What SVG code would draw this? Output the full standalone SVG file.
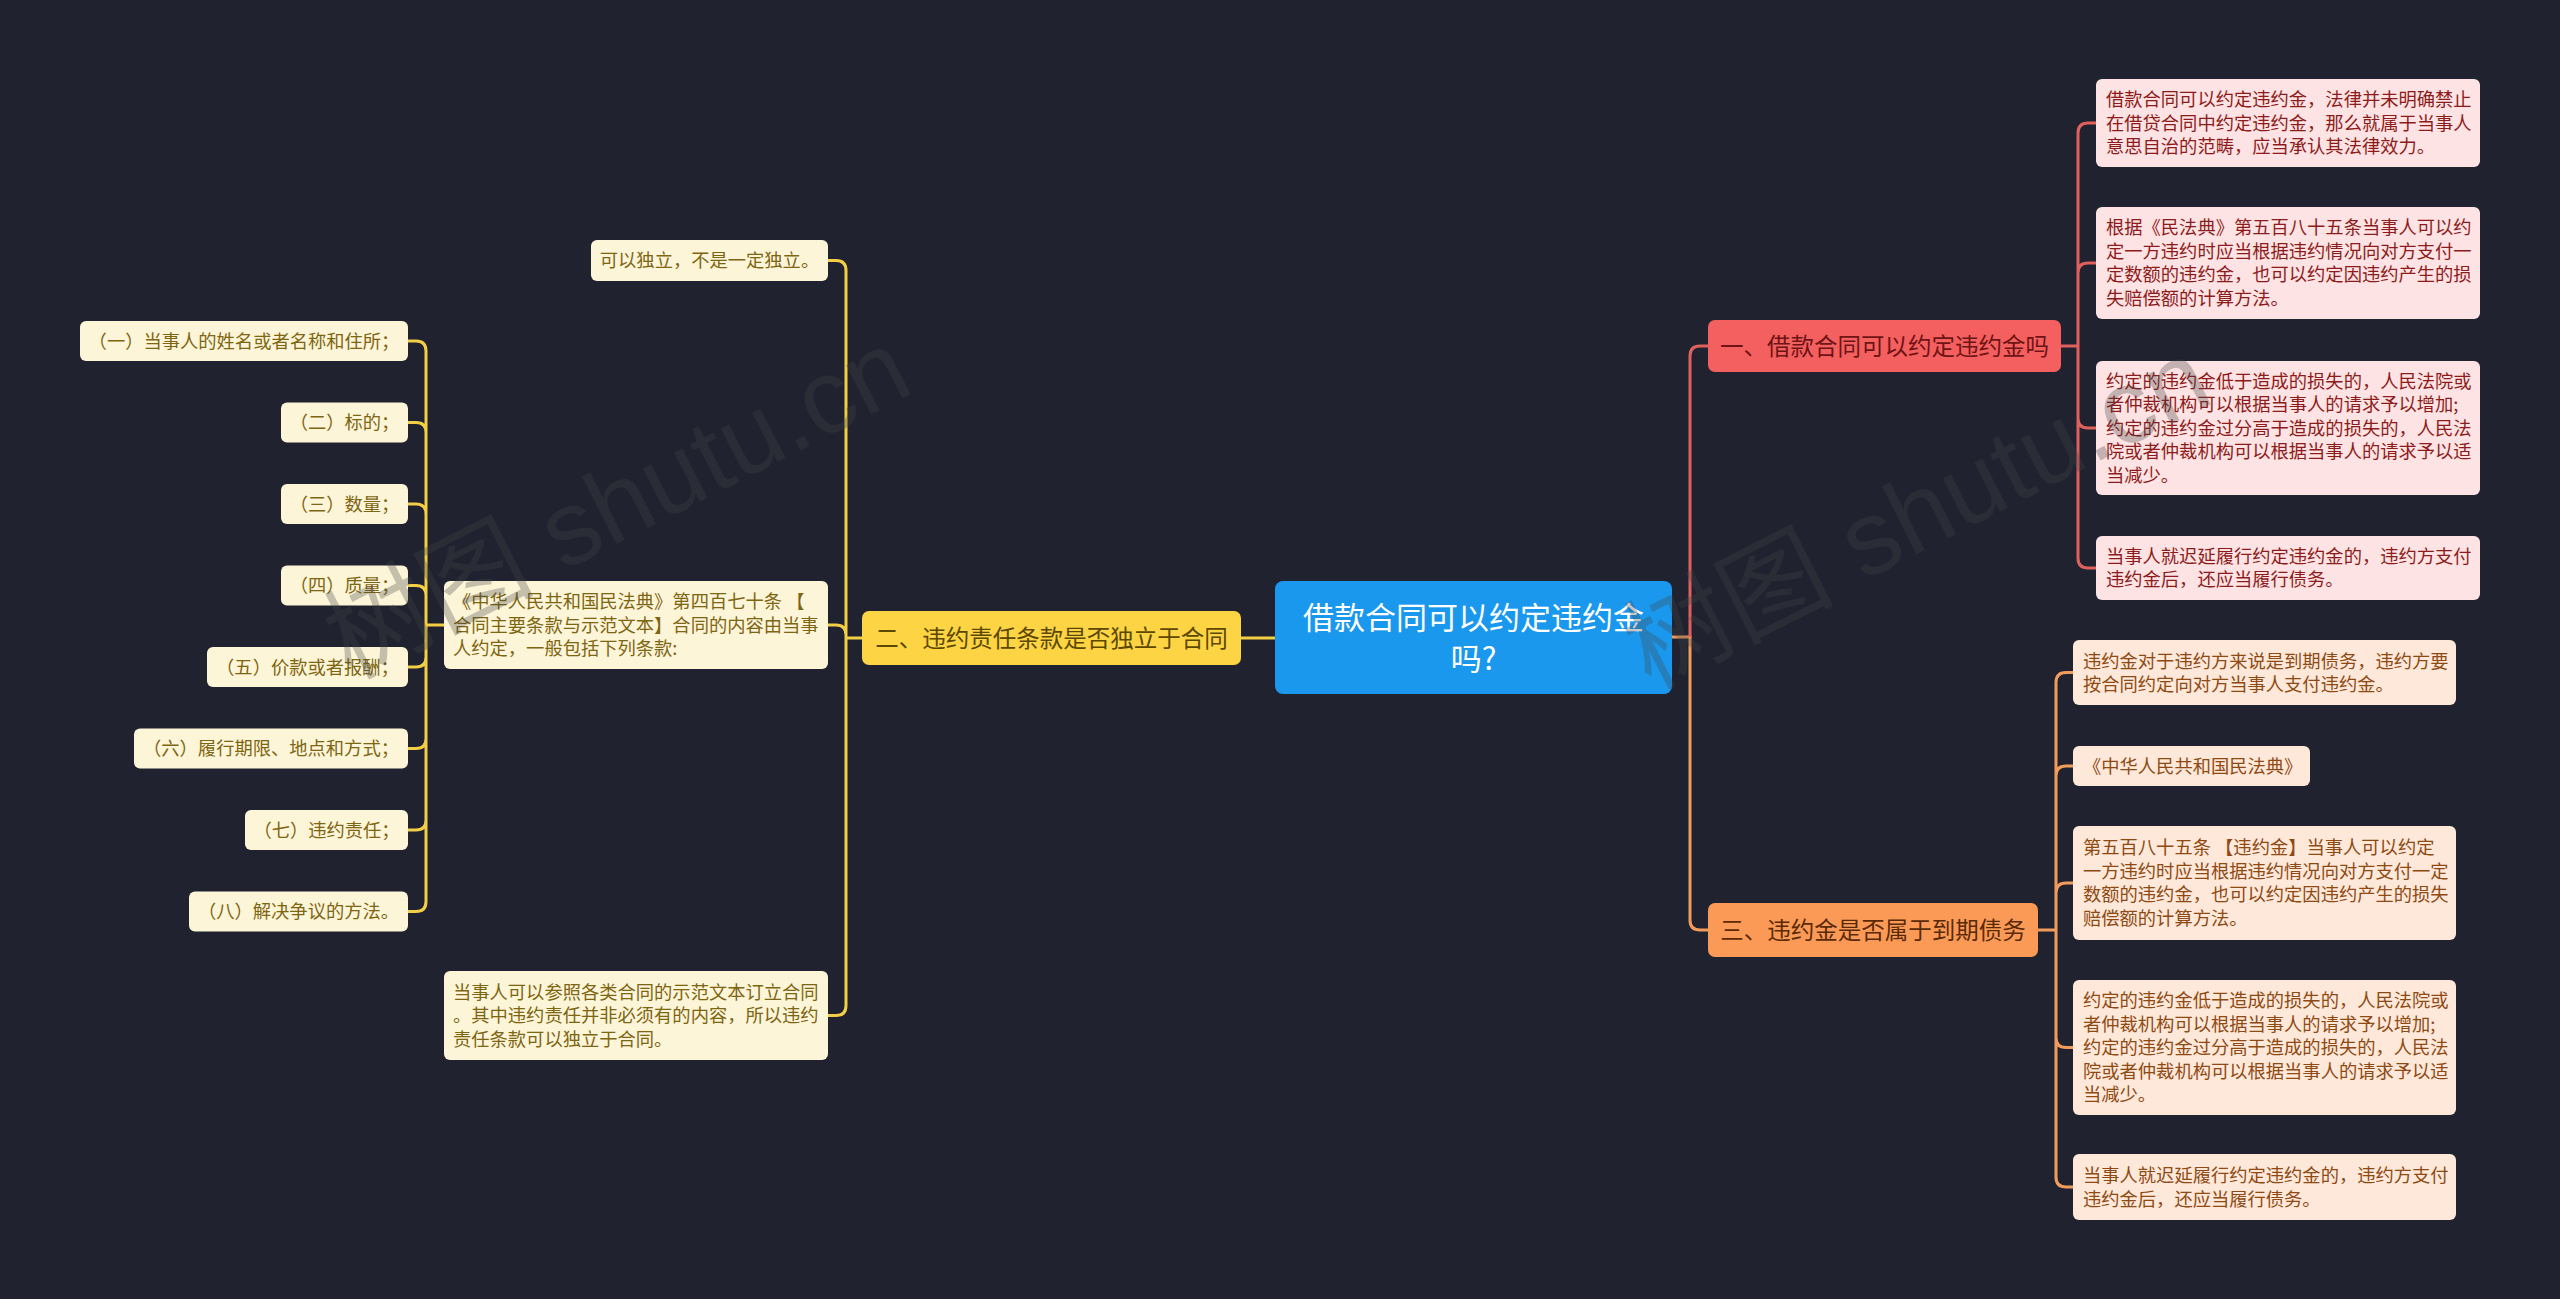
<svg xmlns="http://www.w3.org/2000/svg" width="2560" height="1299" viewBox="0 0 2560 1299">
<style>
text{font-family:"Noto Sans CJK SC","Microsoft YaHei",sans-serif}
.sm{font-size:18.3px}
.main{font-size:23.5px;text-anchor:middle}
.red rect{fill:#fde3e3}
.red text{fill:#8e1b1b}
.org rect{fill:#fde8d9}
.org text{fill:#8f4a14}
.yel rect{fill:#fdf5d8}
.yel text{fill:#7d6512}
.mid{text-anchor:middle}
.cr{fill:none;stroke:#e0605e;stroke-width:3}
.co{fill:none;stroke:#f29c5c;stroke-width:3}
.cy{fill:none;stroke:#f2cf45;stroke-width:3}
.wm{font-family:"Liberation Sans","Noto Sans CJK SC",sans-serif;font-size:105px;fill:#444;opacity:0.3}
</style>
<rect x="0" y="0" width="2560" height="1299" fill="#20232f"/>
<g id="connectors">
<path class="co" d="M1672,637 H1690 V920 Q1690,930 1700,930 H1708"/>
<path class="cr" d="M1690,637 V356 Q1690,346 1700,346 H1708"/>
<path class="cy" d="M1275,638 H1241"/>
<path class="cr" d="M2061,346 H2078 M2078,346 V133 Q2078,123 2088,123 H2096 M2078,346 V273 Q2078,263 2088,263 H2096 M2078,346 V418 Q2078,428 2088,428 H2096 M2078,346 V558 Q2078,568 2088,568 H2096"/>
<path class="co" d="M2038,930 H2056 M2056,930 V682.5 Q2056,672.5 2066,672.5 H2073 M2056,930 V776 Q2056,766 2066,766 H2073 M2056,930 V893 Q2056,883 2066,883 H2073 M2056,930 V1037.5 Q2056,1047.5 2066,1047.5 H2073 M2056,930 V1177 Q2056,1187 2066,1187 H2073"/>
<path class="cy" d="M862,638 H846 M846,638 V270.5 Q846,260.5 836,260.5 H828 M846,638 V635 Q846,625 836,625 H828 M846,638 V1005.5 Q846,1015.5 836,1015.5 H828"/>
<path class="cy" d="M444,625 H426 M426,625 V351 Q426,341 416,341 H408 M426,625 V432.5 Q426,422.5 416,422.5 H408 M426,625 V514 Q426,504 416,504 H408 M426,625 V595.5 Q426,585.5 416,585.5 H408 M426,625 V657 Q426,667 416,667 H408 M426,625 V738.5 Q426,748.5 416,748.5 H408 M426,625 V820 Q426,830 416,830 H408 M426,625 V901.5 Q426,911.5 416,911.5 H408"/>
</g>
<g id="root">
<rect x="1275" y="581" width="397" height="113" rx="8" fill="#1998ee"/>
<text x="1473.5" y="629" font-size="31" fill="#ffffff" text-anchor="middle">借款合同可以约定违约金</text>
<text x="1473.5" y="670" font-size="31" fill="#ffffff" text-anchor="middle">吗?</text>
</g>
<g id="b1">
<rect x="1708" y="320" width="353" height="52" rx="7" fill="#f45f5f"/>
<text class="main" x="1884.5" y="354.5" fill="#6e1414">一、借款合同可以约定违约金吗</text>
</g>
<g id="b2">
<rect x="862" y="611" width="379" height="54" rx="7" fill="#fdd443"/>
<text class="main" x="1051.5" y="646.5" fill="#5c4800">二、违约责任条款是否独立于合同</text>
</g>
<g id="b3">
<rect x="1708" y="903" width="330" height="54" rx="7" fill="#fa9a56"/>
<text class="main" x="1873" y="938.5" fill="#5a2a08">三、违约金是否属于到期债务</text>
</g>
<g id="r1" class="red">
<rect x="2096" y="79" width="384" height="88" rx="6"/>
<text class="sm" x="2106" y="106">借款合同可以约定违约金，法律并未明确禁止</text>
<text class="sm" x="2106" y="129.5">在借贷合同中约定违约金，那么就属于当事人</text>
<text class="sm" x="2106" y="153">意思自治的范畴，应当承认其法律效力。</text>
</g>
<g id="r2" class="red">
<rect x="2096" y="207" width="384" height="112" rx="6"/>
<text class="sm" x="2106" y="234">根据《民法典》第五百八十五条当事人可以约</text>
<text class="sm" x="2106" y="258">定一方违约时应当根据违约情况向对方支付一</text>
<text class="sm" x="2106" y="281">定数额的违约金，也可以约定因违约产生的损</text>
<text class="sm" x="2106" y="305">失赔偿额的计算方法。</text>
</g>
<g id="r3" class="red">
<rect x="2096" y="361" width="384" height="134" rx="6"/>
<text class="sm" x="2106" y="387.5">约定的违约金低于造成的损失的，人民法院或</text>
<text class="sm" x="2106" y="411">者仲裁机构可以根据当事人的请求予以增加;</text>
<text class="sm" x="2106" y="434.5">约定的违约金过分高于造成的损失的，人民法</text>
<text class="sm" x="2106" y="458">院或者仲裁机构可以根据当事人的请求予以适</text>
<text class="sm" x="2106" y="481.5">当减少。</text>
</g>
<g id="r4" class="red">
<rect x="2096" y="536" width="384" height="64" rx="6"/>
<text class="sm" x="2106" y="563">当事人就迟延履行约定违约金的，违约方支付</text>
<text class="sm" x="2106" y="586">违约金后，还应当履行债务。</text>
</g>
<g id="o1" class="org">
<rect x="2073" y="640" width="383" height="65" rx="6"/>
<text class="sm" x="2083" y="667.5">违约金对于违约方来说是到期债务，违约方要</text>
<text class="sm" x="2083" y="691">按合同约定向对方当事人支付违约金。</text>
</g>
<g id="o2" class="org">
<rect x="2073" y="746" width="237" height="40" rx="6"/>
<text class="sm" x="2083" y="772.5">《中华人民共和国民法典》</text>
</g>
<g id="o3" class="org">
<rect x="2073" y="826" width="383" height="114" rx="6"/>
<text class="sm" x="2083" y="854">第五百八十五条 【违约金】当事人可以约定</text>
<text class="sm" x="2083" y="878">一方违约时应当根据违约情况向对方支付一定</text>
<text class="sm" x="2083" y="901">数额的违约金，也可以约定因违约产生的损失</text>
<text class="sm" x="2083" y="925">赔偿额的计算方法。</text>
</g>
<g id="o4" class="org">
<rect x="2073" y="980" width="383" height="135" rx="6"/>
<text class="sm" x="2083" y="1007">约定的违约金低于造成的损失的，人民法院或</text>
<text class="sm" x="2083" y="1030.5">者仲裁机构可以根据当事人的请求予以增加;</text>
<text class="sm" x="2083" y="1054">约定的违约金过分高于造成的损失的，人民法</text>
<text class="sm" x="2083" y="1077.5">院或者仲裁机构可以根据当事人的请求予以适</text>
<text class="sm" x="2083" y="1101">当减少。</text>
</g>
<g id="o5" class="org">
<rect x="2073" y="1154" width="383" height="66" rx="6"/>
<text class="sm" x="2083" y="1182">当事人就迟延履行约定违约金的，违约方支付</text>
<text class="sm" x="2083" y="1205.5">违约金后，还应当履行债务。</text>
</g>
<g id="y1" class="yel">
<rect x="591" y="240" width="237" height="41" rx="6"/>
<text class="sm mid" x="709.5" y="267">可以独立，不是一定独立。</text>
</g>
<g id="y2" class="yel">
<rect x="444" y="581" width="384" height="88" rx="6"/>
<text class="sm" x="453" y="608">《中华人民共和国民法典》第四百七十条 【</text>
<text class="sm" x="453" y="631.5">合同主要条款与示范文本】合同的内容由当事</text>
<text class="sm" x="453" y="655">人约定，一般包括下列条款:</text>
</g>
<g id="y3" class="yel">
<rect x="444" y="971" width="384" height="89" rx="6"/>
<text class="sm" x="453" y="998.5">当事人可以参照各类合同的示范文本订立合同</text>
<text class="sm" x="453" y="1022">。其中违约责任并非必须有的内容，所以违约</text>
<text class="sm" x="453" y="1045.5">责任条款可以独立于合同。</text>
</g>
<g id="g1" class="yel"><rect x="80" y="321" width="328" height="40" rx="6"/><text class="sm mid" x="244" y="347.5">（一）当事人的姓名或者名称和住所；</text></g>
<g id="g2" class="yel"><rect x="281" y="402.5" width="127" height="40" rx="6"/><text class="sm mid" x="344.5" y="429">（二）标的；</text></g>
<g id="g3" class="yel"><rect x="281" y="484" width="127" height="40" rx="6"/><text class="sm mid" x="344.5" y="510.5">（三）数量；</text></g>
<g id="g4" class="yel"><rect x="281" y="565.5" width="127" height="40" rx="6"/><text class="sm mid" x="344.5" y="592">（四）质量；</text></g>
<g id="g5" class="yel"><rect x="207" y="647" width="201" height="40" rx="6"/><text class="sm mid" x="307.5" y="673.5">（五）价款或者报酬；</text></g>
<g id="g6" class="yel"><rect x="134" y="728.5" width="274" height="40" rx="6"/><text class="sm mid" x="271" y="755">（六）履行期限、地点和方式；</text></g>
<g id="g7" class="yel"><rect x="245" y="810" width="163" height="40" rx="6"/><text class="sm mid" x="326.5" y="836.5">（七）违约责任；</text></g>
<g id="g8" class="yel"><rect x="189" y="891.5" width="219" height="40" rx="6"/><text class="sm mid" x="298.5" y="918">（八）解决争议的方法。</text></g>
<text class="wm" transform="translate(350,680) rotate(-27)">树图 shutu.cn</text>
<text class="wm" transform="translate(1650,690) rotate(-27)">树图 shutu.cn</text>
</svg>
